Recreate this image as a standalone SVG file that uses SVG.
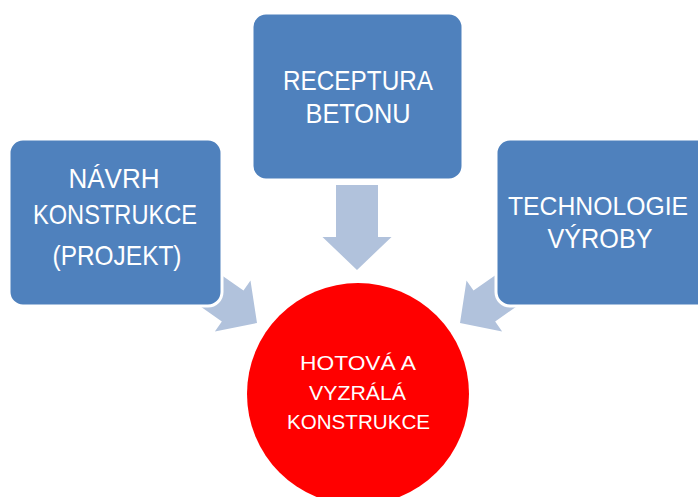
<svg xmlns="http://www.w3.org/2000/svg" width="698" height="497" viewBox="0 0 698 497">
<style>
.box{fill:#4F81BD;stroke:#FFFFFF;stroke-width:3}
.arrow{fill:#B1C2DC}
.t{fill:#FFFFFF;font-family:"Liberation Sans",Arial,sans-serif;text-anchor:middle;font-size:28px}
.ts{fill:#FFFFFF;font-family:"Liberation Sans",Arial,sans-serif;text-anchor:middle;font-size:20px}
</style>
<defs>
<path id="arr" d="M-21,-85 L21,-85 L21,-33 L34.5,-33 L0,0 L-34.5,-33 L-21,-33 Z"/>
</defs>
<rect width="698" height="497" fill="#FFFFFF"/>
<g id="connectors">
<use href="#arr" class="arrow" transform="translate(357,270)"/>
<use href="#arr" class="arrow" transform="translate(257,323) rotate(-55) scale(0.9)"/>
<use href="#arr" class="arrow" transform="translate(460,323) rotate(55) scale(0.9)"/>
</g>
<g id="navrh">
<rect class="box" x="9" y="139" width="213" height="167" rx="14"/>
<text class="t" x="114" y="188" textLength="91" lengthAdjust="spacingAndGlyphs">NÁVRH</text>
<text class="t" x="115" y="224" textLength="164" lengthAdjust="spacingAndGlyphs">KONSTRUKCE</text>
<text class="t" x="117" y="265" textLength="129" lengthAdjust="spacingAndGlyphs">(PROJEKT)</text>
</g>
<g id="receptura">
<rect class="box" x="252" y="13" width="211" height="167" rx="14"/>
<text class="t" x="358" y="90" textLength="150" lengthAdjust="spacingAndGlyphs">RECEPTURA</text>
<text class="t" x="358" y="123" textLength="105" lengthAdjust="spacingAndGlyphs">BETONU</text>
</g>
<g id="technologie">
<rect class="box" x="496" y="139" width="215" height="167" rx="14"/>
<text class="t" x="598" y="215" font-size="26" style="font-size:26px" textLength="180" lengthAdjust="spacingAndGlyphs">TECHNOLOGIE</text>
<text class="t" x="600" y="248" textLength="105" lengthAdjust="spacingAndGlyphs">VÝROBY</text>
</g>
<g id="hotova">
<circle cx="358" cy="394" r="111" fill="#FF0000"/>
<text class="ts" x="358" y="370" textLength="116" lengthAdjust="spacingAndGlyphs">HOTOVÁ A</text>
<text class="ts" x="357.5" y="400" textLength="97" lengthAdjust="spacingAndGlyphs">VYZRÁLÁ</text>
<text class="ts" x="358.5" y="429" textLength="143" lengthAdjust="spacingAndGlyphs">KONSTRUKCE</text>
</g>
</svg>
